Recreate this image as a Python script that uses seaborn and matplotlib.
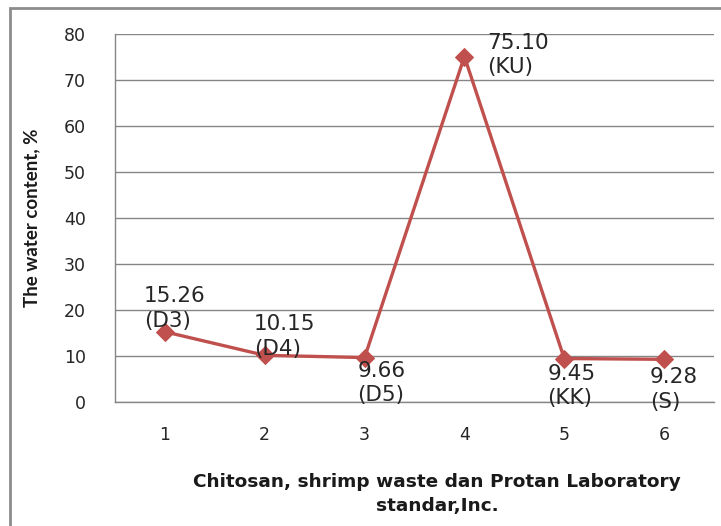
import matplotlib
matplotlib.use("Agg")
import matplotlib.pyplot as plt
import seaborn as sns
import pandas as pd
from matplotlib.patches import Rectangle

# data
samples = [1, 2, 3, 4, 5, 6]
water_content = [15.26, 10.15, 9.66, 75.10, 9.45, 9.28]
codes = ["D3", "D4", "D5", "KU", "KK", "S"]
# label offsets (pixels) from each point, roughly as placed in the original
label_dx = [-21, -11, -7, 23, -17, -14]
label_dy = [46, 41, -3, 24, -5, -8]

sns.set_style("white")
plt.rcParams["font.family"] = ["DejaVu Sans"]

df = pd.DataFrame({"sample": samples, "water": water_content})

fig = plt.figure(figsize=(7.21, 5.26), dpi=100)
ax = fig.add_axes([115 / 721, 1 - 402 / 526, 599 / 721, 368 / 526])

red = "#C0504D"
grid = "#868686"

sns.lineplot(data=df, x="sample", y="water", ax=ax, color=red, linewidth=2.4,
             marker="D", markersize=9.5, markeredgecolor=red, zorder=3)

ax.set_xlim(0.5, 6.5)
ax.set_ylim(0, 80)
ax.set_yticks(range(0, 81, 10))
ax.yaxis.grid(True, color=grid, linewidth=1)
ax.set_axisbelow(True)

# category boundaries get the tick marks, the labels sit in between
ax.set_xticks([i + 0.5 for i in range(0, 7)])
ax.set_xticklabels([])
ax.set_xticks(samples, minor=True)
ax.set_xticklabels([str(s) for s in samples], minor=True)
ax.tick_params(axis="x", which="major", length=6, width=1, color=grid, direction="out")
ax.tick_params(axis="x", which="minor", length=0, pad=17, labelsize=12.5, labelcolor="#262626")
ax.tick_params(axis="y", length=10, width=1, color=grid, direction="out", pad=11,
               labelsize=12.5, labelcolor="#262626")

for side in ["top", "right"]:
    ax.spines[side].set_visible(False)
for side in ["left", "bottom"]:
    ax.spines[side].set_color(grid)
    ax.spines[side].set_linewidth(1)

for x, y, c, dx, dy in zip(samples, water_content, codes, label_dx, label_dy):
    ax.annotate(f"{y:.2f}\n({c})", (x, y), xytext=(dx, dy), textcoords="offset pixels",
                ha="left", va="top", fontsize=15.5, color="#262626", linespacing=1.3)

ax.set_xlabel("Chitosan, shrimp waste dan Protan Laboratory\nstandar,Inc.",
              fontsize=13.3, fontweight="bold", color="#1a1a1a", linespacing=1.4)
ax.xaxis.set_label_coords(0.538, -0.193, transform=ax.transAxes)
ax.xaxis.label.set_va("top")
ax.set_ylabel("The water content, %", fontsize=13.5, fontweight="bold", color="#1a1a1a",
              family="Lato")
ax.yaxis.set_label_coords(40 / 721, 1 - 218 / 526, transform=fig.transFigure)

# outer chart frame, cut off at the right and bottom like the screenshot
fig.patches.append(Rectangle((10 / 721, -0.1), 1.2, 1 - 8 / 526 + 0.1,
                             transform=fig.transFigure, fill=False,
                             edgecolor="#8c8c8c", linewidth=2))

fig.savefig("out.png", dpi=100)
